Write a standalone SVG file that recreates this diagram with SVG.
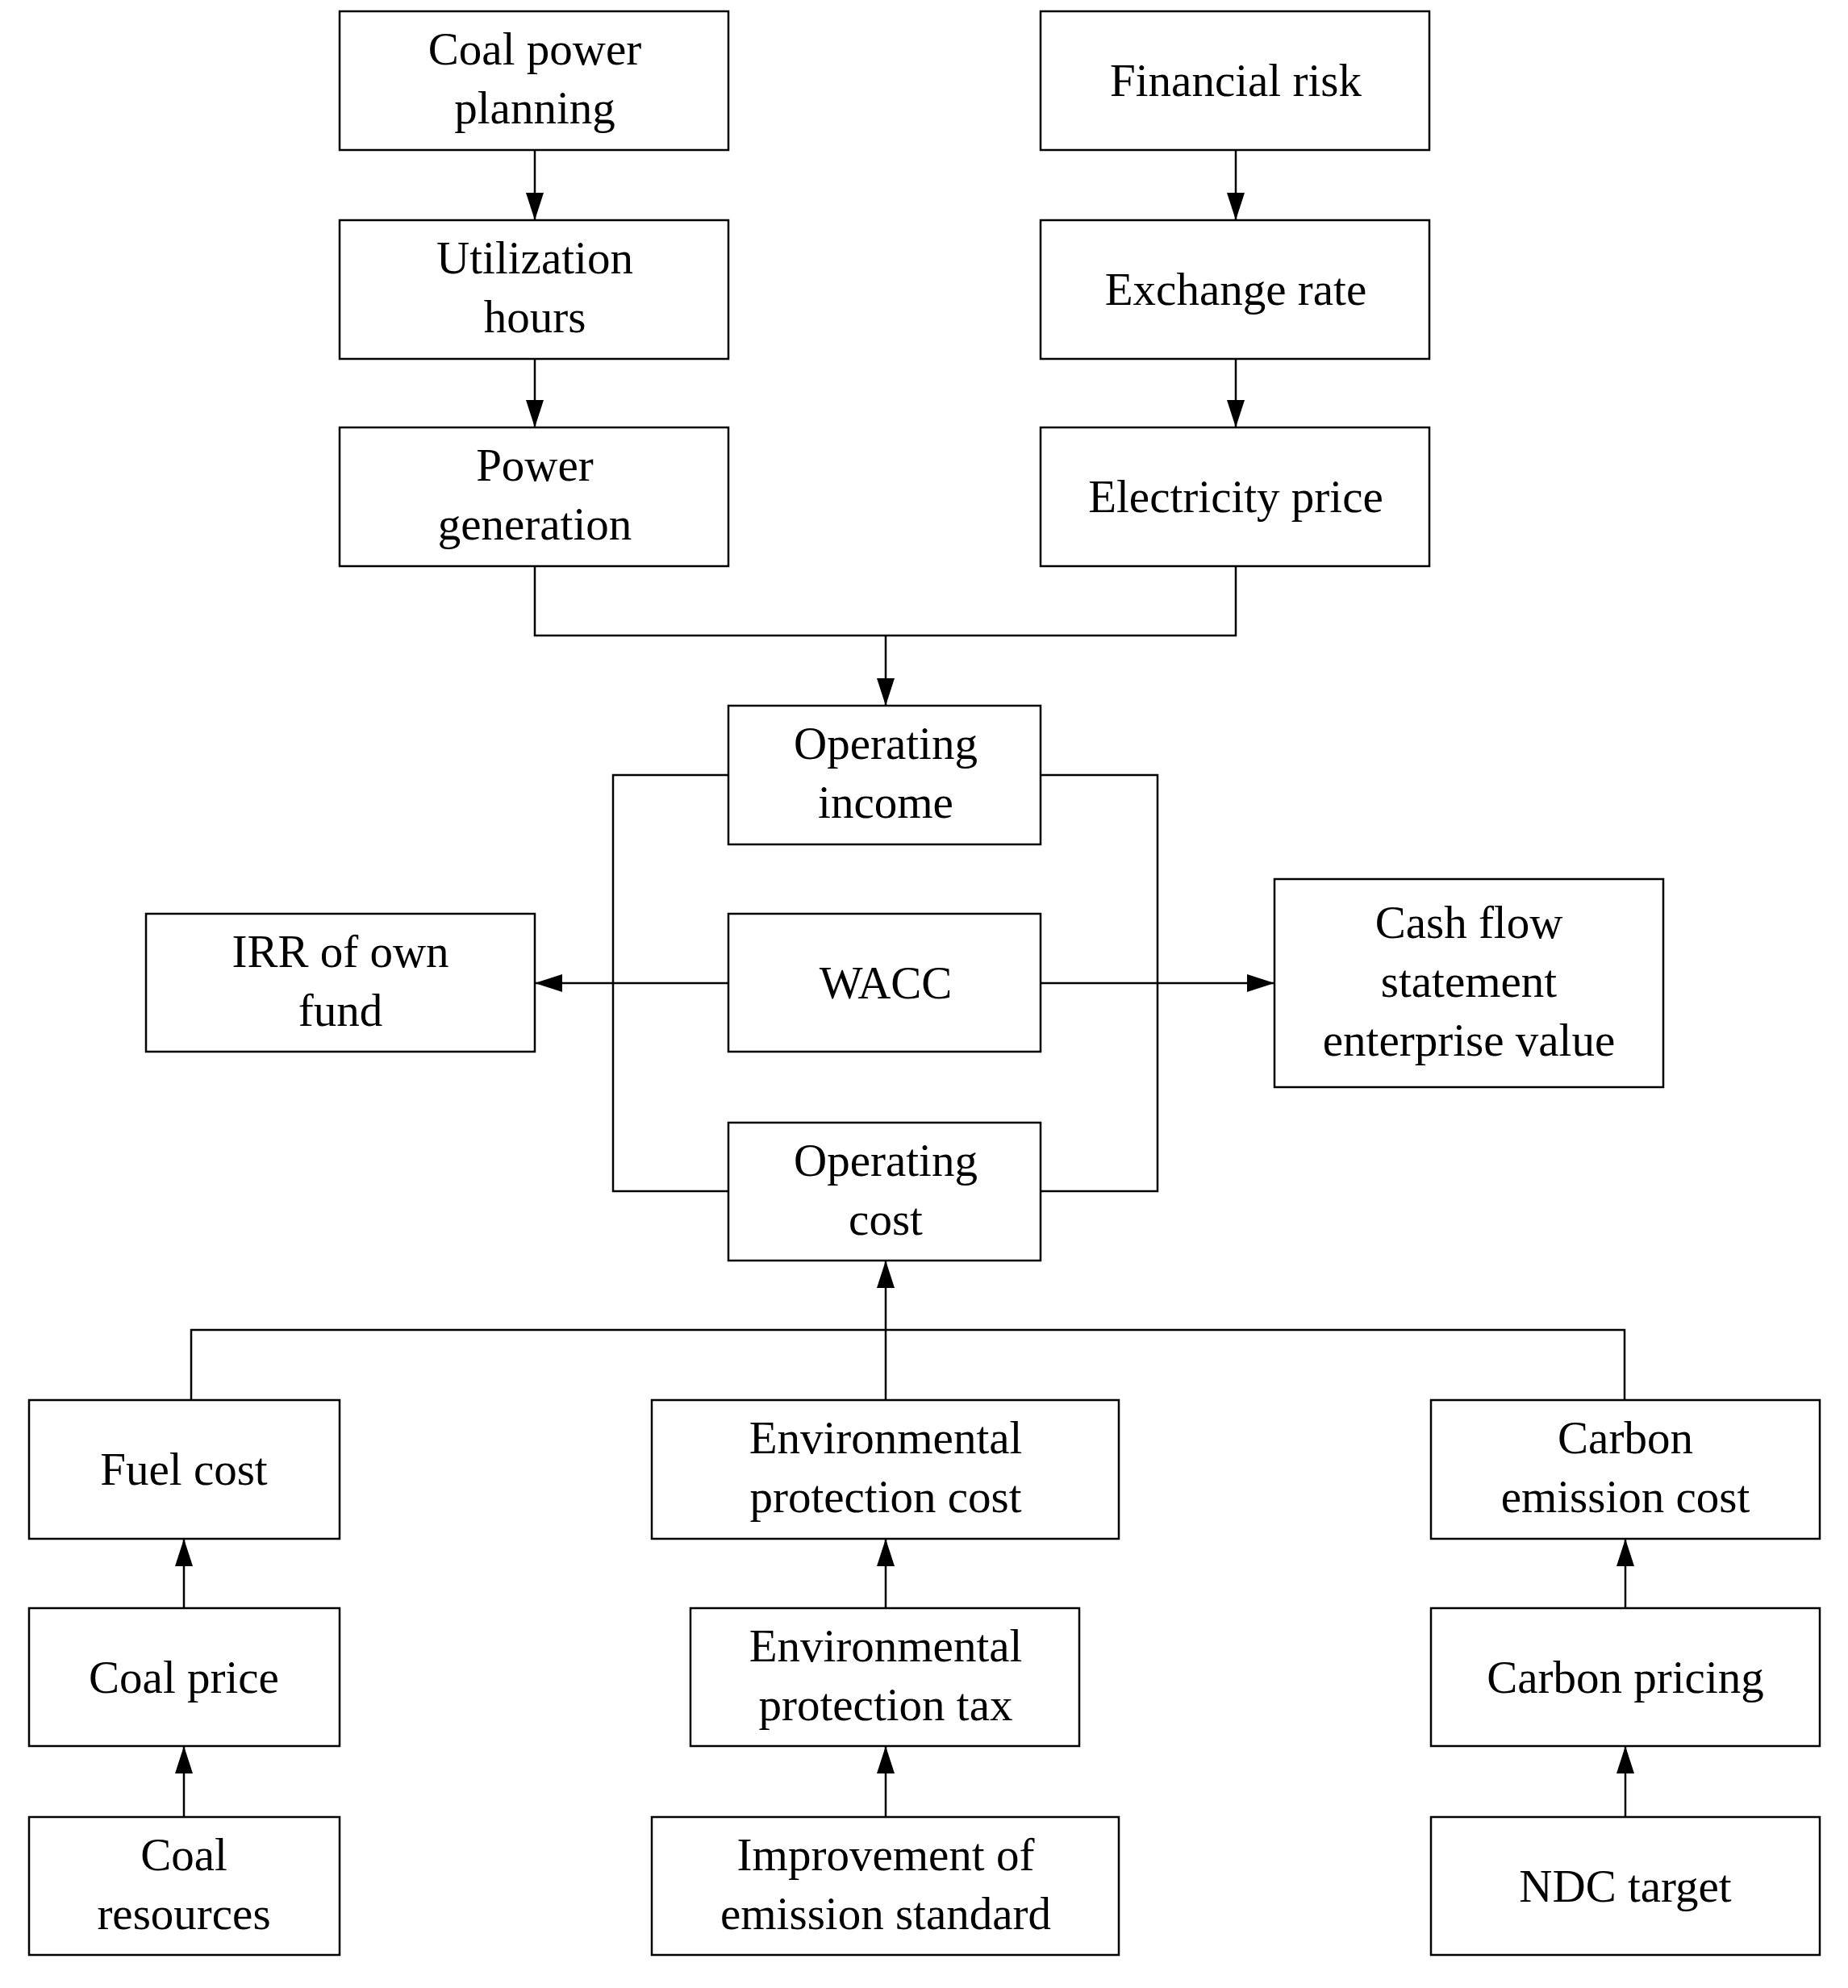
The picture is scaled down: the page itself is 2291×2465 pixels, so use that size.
<svg xmlns="http://www.w3.org/2000/svg" width="2291" height="2465" viewBox="0 0 2291 2465">
<style>
rect{fill:#fff;stroke:#000;stroke-width:2.5}
text{font-family:"Liberation Serif","Times New Roman",serif;font-size:57px;text-anchor:middle;fill:#000}
.c{fill:none;stroke:#000;stroke-width:2.5}
</style>
<defs><marker id="a" markerWidth="34" markerHeight="22" refX="34" refY="11" orient="auto" markerUnits="userSpaceOnUse"><path d="M0,0 L34,11 L0,22 Z" fill="#000"/></marker></defs>
<rect width="2291" height="2465" style="stroke:none"/>
<g id="connectors">
<path class="c" d="M663 186V273" marker-end="url(#a)"/>
<path class="c" d="M663 445V530" marker-end="url(#a)"/>
<path class="c" d="M1532 186V273" marker-end="url(#a)"/>
<path class="c" d="M1532 445V530" marker-end="url(#a)"/>
<path class="c" d="M663 702V788H1532V702"/>
<path class="c" d="M1098 788V875" marker-end="url(#a)"/>
<path class="c" d="M903 961H760V1477H903"/>
<path class="c" d="M1290 961H1435V1477H1290"/>
<path class="c" d="M903 1219H663" marker-end="url(#a)"/>
<path class="c" d="M1290 1219H1580" marker-end="url(#a)"/>
<path class="c" d="M237 1736V1649H2014V1736"/>
<path class="c" d="M1098 1736V1563" marker-end="url(#a)"/>
<path class="c" d="M228 1994V1908" marker-end="url(#a)"/>
<path class="c" d="M228 2253V2165" marker-end="url(#a)"/>
<path class="c" d="M1098 1994V1908" marker-end="url(#a)"/>
<path class="c" d="M1098 2253V2165" marker-end="url(#a)"/>
<path class="c" d="M2015 1994V1908" marker-end="url(#a)"/>
<path class="c" d="M2015 2253V2165" marker-end="url(#a)"/>
</g>
<g id="n1"><rect x="421" y="14" width="482" height="172"/><text x="663" y="80">Coal power</text><text x="663" y="153">planning</text></g>
<g id="n2"><rect x="421" y="273" width="482" height="172"/><text x="663" y="339">Utilization</text><text x="663" y="412">hours</text></g>
<g id="n3"><rect x="421" y="530" width="482" height="172"/><text x="663" y="596">Power</text><text x="663" y="669">generation</text></g>
<g id="n4"><rect x="1290" y="14" width="482" height="172"/><text x="1532" y="119">Financial risk</text></g>
<g id="n5"><rect x="1290" y="273" width="482" height="172"/><text x="1532" y="378">Exchange rate</text></g>
<g id="n6"><rect x="1290" y="530" width="482" height="172"/><text x="1532" y="635">Electricity price</text></g>
<g id="n7"><rect x="903" y="875" width="387" height="172"/><text x="1098" y="941">Operating</text><text x="1098" y="1014">income</text></g>
<g id="n8"><rect x="903" y="1133" width="387" height="171"/><text x="1098" y="1238">WACC</text></g>
<g id="n9"><rect x="903" y="1392" width="387" height="171"/><text x="1098" y="1458">Operating</text><text x="1098" y="1531">cost</text></g>
<g id="n10"><rect x="181" y="1133" width="482" height="171"/><text x="422" y="1199">IRR of own</text><text x="422" y="1272">fund</text></g>
<g id="n11"><rect x="1580" y="1090" width="482" height="258"/><text x="1821" y="1163">Cash flow</text><text x="1821" y="1236">statement</text><text x="1821" y="1309">enterprise value</text></g>
<g id="n12"><rect x="36" y="1736" width="385" height="172"/><text x="228" y="1841">Fuel cost</text></g>
<g id="n13"><rect x="808" y="1736" width="579" height="172"/><text x="1098" y="1802">Environmental</text><text x="1098" y="1875">protection cost</text></g>
<g id="n14"><rect x="1774" y="1736" width="482" height="172"/><text x="2015" y="1802">Carbon</text><text x="2015" y="1875">emission cost</text></g>
<g id="n15"><rect x="36" y="1994" width="385" height="171"/><text x="228" y="2099">Coal price</text></g>
<g id="n16"><rect x="856" y="1994" width="482" height="171"/><text x="1098" y="2060">Environmental</text><text x="1098" y="2133">protection tax</text></g>
<g id="n17"><rect x="1774" y="1994" width="482" height="171"/><text x="2015" y="2099">Carbon pricing</text></g>
<g id="n18"><rect x="36" y="2253" width="385" height="171"/><text x="228" y="2319">Coal</text><text x="228" y="2392">resources</text></g>
<g id="n19"><rect x="808" y="2253" width="579" height="171"/><text x="1098" y="2319">Improvement of</text><text x="1098" y="2392">emission standard</text></g>
<g id="n20"><rect x="1774" y="2253" width="482" height="171"/><text x="2015" y="2358">NDC target</text></g>
</svg>
